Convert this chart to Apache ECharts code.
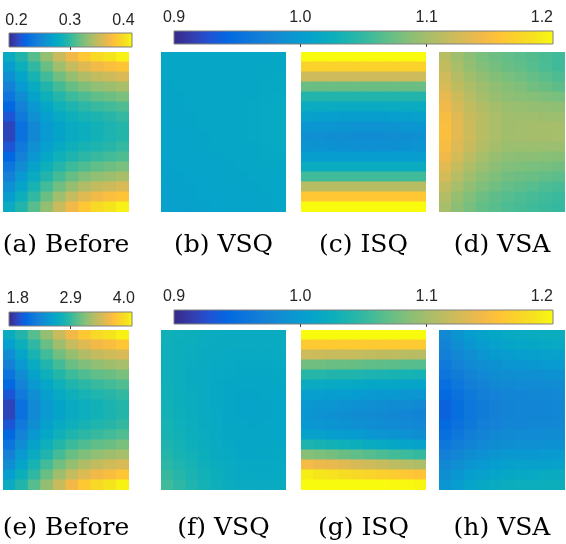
<!DOCTYPE html>
<html>
<head>
<meta charset="utf-8">
<script src="https://cdn.jsdelivr.net/npm/echarts@6/dist/echarts.min.js"></script>
<style>html,body{margin:0;padding:0;background:#fff}#c{width:566px;height:544px}</style>
</head>
<body>
<div id="c"></div>
<script>
// ---- categories (grid columns / rows of each map) ----
const xCats = ['c1','c2','c3','c4','c5','c6','c7','c8','c9','c10'];
const yCats = ['r1','r2','r3','r4','r5','r6','r7','r8','r9','r10','r11','r12','r13','r14','r15','r16'];

// ---- captions ----
const captions = ['(a) Before','(b) VSQ','(c) ISQ','(d) VSA','(e) Before','(f) VSQ','(g) ISQ','(h) VSA'];

// ---- colour bar ranges & tick labels ----
const rangeA = [0.186, 0.416];
const labelsA = [0.2, 0.3, 0.4];
const ticksA = [0.3];
const rangeE = [1.62, 4.17];
const labelsE = [1.8, 2.9, 4.0];
const ticksE = [2.9];
const rangeN = [0.9, 1.2];
const labelsN = [0.9, 1.0, 1.1, 1.2];
const ticksN = [1.0, 1.1];

// ---- map values (rows top -> bottom, columns left -> right) ----
const panelA = [
[0.278,0.294,0.313,0.333,0.354,0.372,0.386,0.398,0.405,0.411],
[0.265,0.282,0.300,0.319,0.337,0.352,0.364,0.373,0.379,0.384],
[0.253,0.271,0.289,0.306,0.321,0.334,0.344,0.351,0.356,0.361],
[0.241,0.261,0.278,0.294,0.307,0.318,0.326,0.332,0.336,0.341],
[0.230,0.251,0.269,0.283,0.295,0.304,0.310,0.316,0.320,0.324],
[0.219,0.241,0.260,0.274,0.284,0.292,0.298,0.302,0.306,0.310],
[0.209,0.234,0.253,0.266,0.276,0.283,0.288,0.292,0.296,0.301],
[0.201,0.227,0.247,0.261,0.270,0.277,0.281,0.286,0.291,0.295],
[0.201,0.227,0.247,0.261,0.270,0.277,0.281,0.286,0.291,0.295],
[0.209,0.234,0.253,0.266,0.276,0.283,0.288,0.292,0.296,0.301],
[0.219,0.241,0.260,0.274,0.284,0.292,0.298,0.302,0.306,0.310],
[0.230,0.251,0.269,0.283,0.295,0.304,0.310,0.316,0.320,0.324],
[0.241,0.261,0.278,0.294,0.307,0.318,0.326,0.332,0.336,0.341],
[0.253,0.271,0.289,0.306,0.321,0.334,0.344,0.351,0.356,0.361],
[0.265,0.282,0.300,0.319,0.337,0.352,0.364,0.373,0.379,0.384],
[0.278,0.294,0.313,0.333,0.354,0.372,0.386,0.398,0.405,0.411]
];
const panelB = [
[1.013,1.013,1.013,1.013,1.013,1.014,1.014,1.014,1.014,1.015],
[1.013,1.013,1.013,1.013,1.013,1.014,1.014,1.014,1.015,1.015],
[1.013,1.013,1.013,1.013,1.013,1.014,1.014,1.015,1.015,1.016],
[1.012,1.013,1.013,1.013,1.013,1.014,1.014,1.015,1.016,1.016],
[1.012,1.012,1.013,1.013,1.013,1.014,1.014,1.015,1.016,1.017],
[1.012,1.012,1.013,1.013,1.013,1.014,1.015,1.016,1.017,1.018],
[1.011,1.012,1.012,1.013,1.013,1.014,1.015,1.016,1.017,1.018],
[1.011,1.011,1.012,1.013,1.013,1.014,1.015,1.016,1.017,1.018],
[1.010,1.011,1.012,1.012,1.013,1.014,1.015,1.016,1.017,1.018],
[1.010,1.010,1.011,1.012,1.013,1.013,1.014,1.015,1.016,1.017],
[1.009,1.010,1.010,1.011,1.012,1.013,1.014,1.015,1.016,1.016],
[1.008,1.009,1.010,1.011,1.011,1.012,1.013,1.014,1.015,1.015],
[1.008,1.008,1.009,1.010,1.011,1.012,1.012,1.013,1.014,1.014],
[1.007,1.008,1.008,1.009,1.010,1.011,1.012,1.012,1.013,1.014],
[1.006,1.007,1.008,1.009,1.009,1.010,1.011,1.012,1.012,1.013],
[1.006,1.006,1.007,1.008,1.009,1.010,1.010,1.011,1.012,1.013]
];
const panelC = [
[1.200,1.200,1.200,1.200,1.200,1.200,1.200,1.200,1.200,1.200],
[1.170,1.170,1.170,1.170,1.170,1.170,1.170,1.170,1.170,1.170],
[1.122,1.122,1.122,1.122,1.122,1.122,1.122,1.122,1.122,1.122],
[1.074,1.074,1.074,1.074,1.074,1.074,1.074,1.074,1.074,1.074],
[1.041,1.041,1.041,1.041,1.041,1.041,1.041,1.041,1.041,1.041],
[1.021,1.020,1.020,1.019,1.019,1.019,1.019,1.020,1.020,1.021],
[1.006,1.005,1.004,1.003,1.003,1.003,1.003,1.004,1.005,1.006],
[0.995,0.994,0.993,0.992,0.991,0.991,0.991,0.992,0.993,0.995],
[0.989,0.988,0.987,0.986,0.985,0.985,0.985,0.986,0.987,0.989],
[0.992,0.991,0.990,0.989,0.988,0.988,0.988,0.989,0.990,0.992],
[1.003,1.002,1.002,1.001,1.001,1.001,1.001,1.002,1.002,1.003],
[1.020,1.020,1.020,1.020,1.020,1.020,1.020,1.020,1.020,1.020],
[1.056,1.056,1.056,1.056,1.056,1.056,1.056,1.056,1.056,1.056],
[1.110,1.110,1.110,1.110,1.110,1.110,1.110,1.110,1.110,1.110],
[1.161,1.161,1.161,1.161,1.161,1.161,1.161,1.161,1.161,1.161],
[1.200,1.200,1.200,1.200,1.200,1.200,1.200,1.200,1.200,1.200]
];
const panelD = [
[1.110,1.097,1.088,1.080,1.075,1.071,1.067,1.064,1.060,1.056],
[1.116,1.102,1.092,1.084,1.078,1.074,1.070,1.065,1.061,1.056],
[1.122,1.108,1.098,1.090,1.084,1.080,1.076,1.071,1.067,1.062],
[1.128,1.114,1.104,1.096,1.090,1.086,1.082,1.077,1.073,1.068],
[1.137,1.121,1.109,1.100,1.094,1.089,1.087,1.085,1.082,1.080],
[1.143,1.127,1.115,1.106,1.100,1.095,1.094,1.092,1.091,1.089],
[1.149,1.132,1.119,1.110,1.103,1.098,1.097,1.097,1.096,1.095],
[1.152,1.134,1.121,1.110,1.103,1.098,1.099,1.100,1.100,1.101],
[1.152,1.134,1.121,1.110,1.103,1.098,1.099,1.100,1.100,1.101],
[1.149,1.131,1.118,1.107,1.100,1.095,1.095,1.095,1.095,1.095],
[1.143,1.125,1.112,1.101,1.094,1.089,1.088,1.088,1.087,1.086],
[1.134,1.117,1.104,1.095,1.088,1.083,1.082,1.080,1.079,1.077],
[1.125,1.109,1.097,1.088,1.082,1.077,1.075,1.073,1.070,1.068],
[1.116,1.101,1.090,1.082,1.076,1.071,1.068,1.065,1.062,1.059],
[1.107,1.093,1.083,1.075,1.069,1.065,1.062,1.059,1.056,1.053],
[1.101,1.088,1.079,1.071,1.066,1.062,1.059,1.056,1.053,1.050]
];
const panelE = [
[2.64,2.82,3.02,3.25,3.48,3.69,3.84,3.97,4.04,4.12],
[2.50,2.69,2.88,3.09,3.29,3.46,3.59,3.69,3.75,3.82],
[2.36,2.56,2.76,2.95,3.12,3.26,3.37,3.45,3.51,3.56],
[2.23,2.45,2.64,2.81,2.96,3.09,3.17,3.24,3.29,3.33],
[2.10,2.34,2.54,2.70,2.83,2.93,3.00,3.06,3.10,3.15],
[1.99,2.24,2.44,2.59,2.71,2.80,2.86,2.91,2.95,3.00],
[1.88,2.15,2.36,2.51,2.62,2.70,2.75,2.80,2.84,2.89],
[1.78,2.08,2.30,2.45,2.55,2.63,2.68,2.73,2.78,2.83],
[1.78,2.08,2.30,2.45,2.55,2.63,2.68,2.73,2.78,2.83],
[1.88,2.15,2.36,2.51,2.62,2.70,2.75,2.80,2.84,2.89],
[1.99,2.24,2.44,2.59,2.71,2.80,2.86,2.91,2.95,3.00],
[2.10,2.34,2.54,2.70,2.83,2.93,3.00,3.06,3.10,3.15],
[2.23,2.45,2.64,2.81,2.96,3.09,3.17,3.24,3.29,3.33],
[2.36,2.56,2.76,2.95,3.12,3.26,3.37,3.45,3.51,3.56],
[2.50,2.69,2.88,3.09,3.29,3.46,3.59,3.69,3.75,3.82],
[2.64,2.82,3.02,3.25,3.48,3.69,3.84,3.97,4.04,4.12]
];
const panelF = [
[1.029,1.027,1.025,1.023,1.022,1.021,1.020,1.020,1.020,1.020],
[1.028,1.026,1.024,1.022,1.021,1.020,1.019,1.019,1.019,1.020],
[1.027,1.025,1.023,1.021,1.019,1.018,1.018,1.018,1.018,1.019],
[1.027,1.024,1.022,1.020,1.018,1.017,1.016,1.016,1.016,1.017],
[1.027,1.024,1.021,1.019,1.017,1.016,1.015,1.014,1.015,1.016],
[1.028,1.024,1.021,1.019,1.016,1.015,1.013,1.013,1.014,1.015],
[1.029,1.025,1.022,1.019,1.016,1.014,1.012,1.012,1.013,1.014],
[1.030,1.026,1.022,1.019,1.016,1.014,1.012,1.011,1.012,1.014],
[1.031,1.027,1.023,1.020,1.017,1.014,1.012,1.011,1.012,1.014],
[1.033,1.028,1.024,1.020,1.017,1.015,1.013,1.012,1.013,1.014],
[1.035,1.030,1.026,1.022,1.018,1.015,1.013,1.013,1.013,1.014],
[1.038,1.032,1.027,1.023,1.019,1.016,1.014,1.013,1.014,1.015],
[1.042,1.035,1.030,1.025,1.021,1.018,1.015,1.014,1.015,1.016],
[1.046,1.039,1.033,1.027,1.023,1.019,1.017,1.016,1.016,1.017],
[1.051,1.043,1.036,1.030,1.025,1.021,1.018,1.017,1.017,1.018],
[1.056,1.047,1.039,1.032,1.027,1.023,1.020,1.019,1.019,1.020]
];
const panelG = [
[1.200,1.200,1.200,1.200,1.200,1.200,1.200,1.200,1.200,1.200],
[1.164,1.164,1.164,1.164,1.164,1.164,1.164,1.164,1.164,1.164],
[1.122,1.121,1.119,1.118,1.117,1.115,1.114,1.113,1.111,1.110],
[1.077,1.076,1.074,1.073,1.072,1.070,1.069,1.068,1.066,1.065],
[1.044,1.043,1.041,1.040,1.039,1.037,1.036,1.035,1.033,1.032],
[1.020,1.019,1.018,1.017,1.016,1.015,1.014,1.013,1.012,1.011],
[1.005,1.004,1.002,1.001,1.000,0.998,0.997,0.996,0.994,0.993],
[0.996,0.994,0.993,0.991,0.989,0.988,0.986,0.984,0.983,0.981],
[0.993,0.991,0.989,0.987,0.985,0.983,0.981,0.979,0.977,0.975],
[0.996,0.994,0.992,0.990,0.988,0.986,0.984,0.982,0.980,0.978],
[1.008,1.006,1.003,1.001,0.999,0.996,0.994,0.992,0.989,0.987],
[1.038,1.035,1.031,1.028,1.025,1.021,1.018,1.015,1.011,1.008],
[1.086,1.082,1.078,1.074,1.070,1.066,1.062,1.058,1.054,1.050],
[1.146,1.141,1.137,1.132,1.127,1.123,1.118,1.113,1.109,1.104],
[1.191,1.187,1.184,1.180,1.176,1.173,1.169,1.165,1.162,1.158],
[1.200,1.200,1.200,1.200,1.200,1.200,1.200,1.199,1.198,1.197]
];
const panelH = [
[0.981,0.992,1.001,1.008,1.013,1.017,1.019,1.020,1.022,1.023],
[0.975,0.986,0.995,1.002,1.007,1.011,1.013,1.014,1.016,1.017],
[0.969,0.979,0.987,0.994,0.999,1.002,1.004,1.005,1.007,1.008],
[0.963,0.972,0.980,0.986,0.990,0.993,0.995,0.996,0.998,0.999],
[0.957,0.966,0.974,0.980,0.984,0.987,0.988,0.988,0.989,0.990],
[0.951,0.960,0.968,0.974,0.978,0.981,0.982,0.982,0.983,0.984],
[0.945,0.954,0.962,0.969,0.973,0.977,0.977,0.978,0.979,0.980],
[0.939,0.950,0.959,0.966,0.971,0.975,0.976,0.976,0.977,0.978],
[0.939,0.950,0.959,0.966,0.971,0.975,0.976,0.976,0.977,0.978],
[0.945,0.954,0.962,0.969,0.973,0.977,0.977,0.978,0.979,0.980],
[0.951,0.960,0.968,0.974,0.978,0.981,0.982,0.982,0.983,0.984],
[0.960,0.968,0.975,0.980,0.984,0.987,0.988,0.988,0.989,0.990],
[0.969,0.977,0.984,0.989,0.993,0.996,0.997,0.997,0.998,0.999],
[0.978,0.986,0.993,0.998,1.002,1.005,1.006,1.006,1.007,1.008],
[0.987,0.995,1.002,1.007,1.011,1.014,1.016,1.017,1.019,1.020],
[0.993,1.002,1.010,1.016,1.020,1.023,1.024,1.024,1.025,1.026]
];

// ---- parula colour map ----
const parula = ['#352a87','#353dad','#2053d4','#0268e1','#0d75dc','#1481d6','#108ed2','#079cd0',
  '#06a7c6','#0fb0b9','#25b5a9','#42bb98','#65be86','#87bf77','#a5be6b','#c0bc60','#d9ba56',
  '#f1b94a','#ffc337','#fad32a','#f5e41d','#f9fb0e'];

const panels = [panelA,panelB,panelC,panelD,panelE,panelF,panelG,panelH];

// layout
const colLeft = [3, 161, 301, 439];
const colWidth = [126, 125, 125, 126];
const rowTop = [52, 330];
const rowHeight = [160, 160];

function renderCell(params, api) {
  const p = api.coord([api.value(0), api.value(1)]);
  const s = api.size([1, 1]);
  return {
    type: 'rect',
    shape: {x: p[0] - s[0] / 2 - 0.5, y: p[1] - s[1] / 2 - 0.5, width: s[0] + 1, height: s[1] + 1},
    style: {fill: api.visual('color'), stroke: null}
  };
}

const grids = [], xAxes = [], yAxes = [], series = [];
panels.forEach((p, i) => {
  const r = Math.floor(i / 4), c = i % 4;
  grids.push({left: colLeft[c], top: rowTop[r], width: colWidth[c], height: rowHeight[r], show: false});
  xAxes.push({type: 'category', gridIndex: i, data: xCats, show: false, boundaryGap: true});
  yAxes.push({type: 'category', gridIndex: i, data: yCats, show: false, inverse: true, boundaryGap: true});
  const data = [];
  p.forEach((row, ri) => row.forEach((v, ci) => data.push([ci, ri, v])));
  series.push({type: 'custom', xAxisIndex: i, yAxisIndex: i, data: data, renderItem: renderCell,
    encode: {x: 0, y: 1}, clip: true, silent: true});
});

// colour bars
const grad = {type: 'linear', x: 0, y: 0, x2: 1, y2: 0,
  colorStops: parula.map((col, k) => ({offset: k / (parula.length - 1), color: col}))};
const bars = [
  {left: 9, top: 33, width: 123, height: 14, range: rangeA, labels: labelsA, ticks: ticksA, margin: 4},
  {left: 174, top: 31, width: 379, height: 13, range: rangeN, labels: labelsN, ticks: ticksN, margin: 5, alignMax: 'right'},
  {left: 9, top: 312, width: 123, height: 14, range: rangeE, labels: labelsE, ticks: ticksE, margin: 5},
  {left: 174, top: 310, width: 379, height: 14, range: rangeN, labels: labelsN, ticks: ticksN, margin: 5, alignMax: 'right'}
];
bars.forEach((b) => {
  const gi = grids.length;
  grids.push({left: b.left, top: b.top, width: b.width, height: b.height, show: true,
    backgroundColor: grad, borderColor: '#808080', borderWidth: 1});
  xAxes.push({type: 'value', gridIndex: gi, position: 'top', min: b.range[0], max: b.range[1],
    axisLine: {show: false}, splitLine: {show: false},
    axisTick: {show: true, inside: true, length: 3, customValues: b.ticks, lineStyle: {color: '#404040', width: 1}},
    axisLabel: {show: true, customValues: b.labels, margin: b.margin, color: '#262626',
      fontFamily: 'Liberation Sans', fontSize: 16, formatter: v => Number(v).toFixed(1),
      alignMaxLabel: b.alignMax || null, showMinLabel: true, showMaxLabel: true}});
  yAxes.push({type: 'value', gridIndex: gi, show: false, min: 0, max: 1});
});

const capX = colLeft.map((l, c) => l + colWidth[c] / 2);
const capY = [245, 528];
const graphic = captions.map((t, i) => ({
  type: 'text', x: capX[i % 4], y: capY[Math.floor(i / 4)], silent: true,
  style: {text: t, font: '25px "DejaVu Serif"', fill: '#000', align: 'center', verticalAlign: 'middle'}
}));

const chart = echarts.init(document.getElementById('c'), null, {renderer: 'canvas'});
chart.setOption({
  animation: false,
  backgroundColor: '#fff',
  grid: grids, xAxis: xAxes, yAxis: yAxes,
  visualMap: [
    {type: 'continuous', show: false, dimension: 2, seriesIndex: 0, min: rangeA[0], max: rangeA[1], inRange: {color: parula}},
    {type: 'continuous', show: false, dimension: 2, seriesIndex: 4, min: rangeE[0], max: rangeE[1], inRange: {color: parula}},
    {type: 'continuous', show: false, dimension: 2, seriesIndex: [1,2,3,5,6,7], min: rangeN[0], max: rangeN[1], inRange: {color: parula}}
  ],
  series: series,
  graphic: graphic
});
</script>
</body>
</html>
